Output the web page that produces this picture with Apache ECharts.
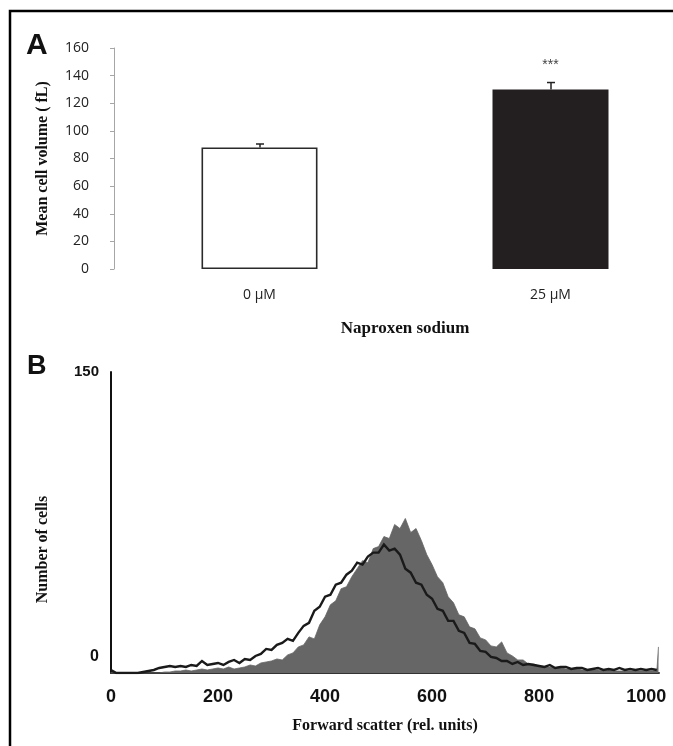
<!DOCTYPE html>
<html>
<head>
<meta charset="utf-8">
<script src="https://cdn.jsdelivr.net/npm/echarts@6/dist/echarts.min.js"></script>
<style>
html,body{margin:0;padding:0;background:#fff;}
#chart{width:673px;height:746px;}
</style>
</head>
<body>
<div id="chart"></div>
<script>
// ---------- Panel A data ----------
const categories = ['0 µM', '25 µM'];
const meanVolume = [88, 130];
const volumeError = [2.5, 5];
const significance = ['', '***'];

// ---------- Panel B data ----------
const channels = [0,10,20,30,40,50,60,70,80,90,100,110,120,130,140,150,160,170,180,190,
200,210,220,230,240,250,260,270,280,290,300,310,320,330,340,350,360,370,380,390,
400,410,420,430,440,450,460,470,480,490,500,510,520,530,540,550,560,570,580,590,
600,610,620,630,640,650,660,670,680,690,700,710,720,730,740,750,760,770,780,790,
800,810,820,830,840,850,860,870,880,890,900,910,920,930,940,950,960,970,980,990,
1000,1010,1020];
const controlCounts = [1.5,0,0,0,0,0,0.5,1,1.5,2.5,
3,3.5,3,3.5,3,4,3.5,6,4,4.5,
5,4,5.5,6.5,5,7,6.5,8.5,9.5,12,
11.5,14,15,17,16,20,23.5,25,31,33,
38,39,44,45,49,51,55,54,58,60,
60,64,61,62,59,52,50,45,44,39,
37,32,31,26,26,21,20,15,14.5,11,
10.5,8,7.5,6,6,4.5,5.5,4,4.5,4,
3.5,3,4,2.5,3,3,2,2.5,2.5,1.5,
2,2.5,1.5,2,1.5,2.5,1.5,2,1.5,2,
1.5,2,1.5];
const treatedChannels = channels.concat([1023]);
const treatedCounts = [0,0,0,0,0,0,0,0,0,0,
0.5,0.5,1,1,1.5,1,1.5,2,1.5,2,
2.5,2,3,2,2.5,3,4,3.5,5,5.5,
6,7,6.5,9,10,13,14,18,17,24,
28,34,36,42,43,48,52,56,55,62,
63,68,67,74,72,77,70,72,66,59,
54,48,45,38,35,29,28,23,22,17.5,
16.5,13.5,13,15.5,10,8.5,6.5,6.5,4.5,4.5,
3.5,3,3,2.5,2.5,2,2,2,1.5,1.5,
1.5,1.5,1,1.5,1,1,1,1,1,1,
1,1,1,13];
const xTicksB = [0, 200, 400, 600, 800, 1000];

const pairs = (xs, ys) => xs.map((x, i) => [x, ys[i]]);

const chart = echarts.init(document.getElementById('chart'), null, {renderer: 'canvas'});

const sansA = '"Open Sans", "Liberation Sans", sans-serif';
const serif = '"Liberation Serif", "DejaVu Serif", serif';
const sansB = '"Liberation Sans", Arial, sans-serif';

const option = {
  animation: false,
  backgroundColor: '#fff',
  grid: [
    {left: 114, width: 582, top: 48, bottom: 746 - 269, containLabel: false, outerBoundsMode: 'none'},
    {left: 111, right: 14, top: 372, bottom: 73, containLabel: false, outerBoundsMode: 'none'}
  ],
  xAxis: [
    {
      gridIndex: 0, type: 'category', data: categories,
      axisLine: {show: false}, axisTick: {show: false},
      axisLabel: {margin: 19, fontFamily: sansA, fontSize: 14, color: '#222'},
      name: 'Naproxen sodium', nameLocation: 'middle', nameGap: 51,
      nameTextStyle: {fontFamily: serif, fontWeight: 'bold', fontSize: 17, color: '#111'}
    },
    {
      gridIndex: 1, type: 'value', min: 0, max: 1024, interval: 200,
      axisLine: {show: true, lineStyle: {color: '#333', width: 2}},
      axisTick: {show: false}, splitLine: {show: false},
      axisLabel: {
        margin: 15, fontFamily: sansB, fontWeight: 'bold', fontSize: 18, color: '#111',
        customValues: xTicksB, formatter: v => String(v)
      },
      name: 'Forward scatter (rel. units)', nameLocation: 'middle', nameGap: 45,
      nameTextStyle: {fontFamily: serif, fontWeight: 'bold', fontSize: 16, color: '#111'}
    }
  ],
  yAxis: [
    {
      gridIndex: 0, type: 'value', min: 0, max: 160, interval: 20,
      axisLine: {show: true, lineStyle: {color: '#a6a6a6', width: 1}},
      axisTick: {show: true, length: 4, lineStyle: {color: '#a6a6a6'}},
      splitLine: {show: false},
      axisLabel: {margin: 25, fontFamily: sansA, fontSize: 14, color: '#222'},
      name: 'Mean cell volume ( fL)', nameLocation: 'middle', nameGap: 63, nameRotate: 90,
      nameTextStyle: {fontFamily: serif, fontWeight: 'bold', fontSize: 16, color: '#111'}
    },
    {
      gridIndex: 1, type: 'value', min: 0, max: 150, interval: 150,
      axisLine: {show: true, lineStyle: {color: '#111', width: 2}},
      axisTick: {show: false}, splitLine: {show: false},
      axisLabel: {
        margin: 12, fontFamily: sansB, fontWeight: 'bold', color: '#111',
        formatter: v => v === 0 ? '{lo|0}' : '{hi|' + v + '}',
        rich: {
          lo: {fontSize: 16, fontWeight: 'bold', fontFamily: sansB, color: '#111', padding: [0, 0, 32, 0]},
          hi: {fontSize: 15, fontWeight: 'bold', fontFamily: sansB, color: '#111', padding: [0, 0, 0, 0]}
        }
      },
      name: 'Number of cells', nameLocation: 'middle', nameGap: 60, nameRotate: 90,
      nameTextStyle: {fontFamily: serif, fontWeight: 'bold', fontSize: 16, color: '#111', padding: [0, 54, 0, 0]}
    }
  ],
  series: [
    {
      type: 'bar', xAxisIndex: 0, yAxisIndex: 0, barWidth: 116,
      data: meanVolume.map((v, i) => ({
        value: v,
        itemStyle: i === 0
          ? {color: '#ffffff', borderColor: '#2a2a2a', borderWidth: 1.6}
          : {color: '#231f20', borderColor: '#231f20', borderWidth: 0}
      })),
      label: {
        show: true, position: 'top', distance: 17,
        formatter: p => significance[p.dataIndex],
        fontFamily: sansB, fontSize: 14, color: '#444'
      },
      z: 2
    },
    {
      type: 'custom', xAxisIndex: 0, yAxisIndex: 0,
      data: meanVolume.map((v, i) => [i, v, v + volumeError[i]]),
      renderItem: (params, api) => {
        const base = api.coord([api.value(0), api.value(1)]);
        const top = api.coord([api.value(0), api.value(2)]);
        const x = base[0] + 0.5;
        return {
          type: 'group',
          children: [
            {type: 'line', shape: {x1: x, y1: base[1], x2: x, y2: top[1]}, style: {stroke: '#222', lineWidth: 1.5}},
            {type: 'line', shape: {x1: x - 4, y1: top[1], x2: x + 4, y2: top[1]}, style: {stroke: '#222', lineWidth: 1.5}}
          ]
        };
      },
      z: 3
    },
    {
      type: 'line', xAxisIndex: 1, yAxisIndex: 1,
      data: pairs(treatedChannels, treatedCounts),
      showSymbol: false, symbol: 'none',
      lineStyle: {color: '#666', width: 0.8},
      areaStyle: {color: '#666', opacity: 1},
      z: 2
    },
    {
      type: 'line', xAxisIndex: 1, yAxisIndex: 1,
      data: pairs(channels, controlCounts),
      showSymbol: false, symbol: 'none',
      lineStyle: {color: '#1a1a1a', width: 2.4, join: 'miter'},
      z: 3
    }
  ],
  graphic: [
    {type: 'polyline', shape: {points: [[10, 746], [10, 11], [673, 11]]}, style: {stroke: '#000', lineWidth: 2.5, fill: null}},
    {type: 'text', left: 26, top: 31, style: {text: 'A', font: 'bold 30px "Liberation Sans", Arial, sans-serif', fill: '#111'}},
    {type: 'text', left: 27, top: 353, style: {text: 'B', font: 'bold 27px "Liberation Sans", Arial, sans-serif', fill: '#111'}}
  ]
};
chart.setOption(option);
</script>
</body>
</html>
